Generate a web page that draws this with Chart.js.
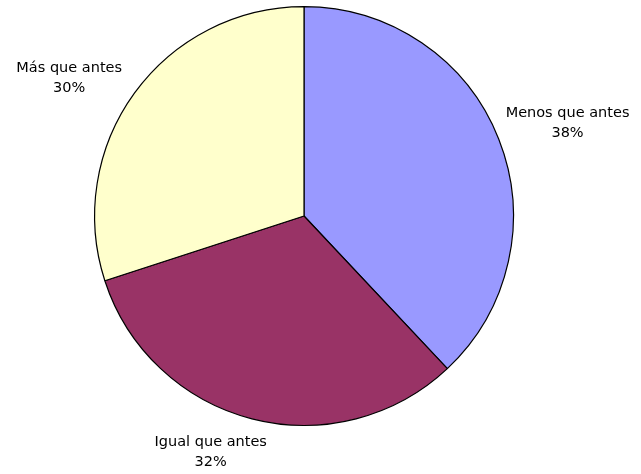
<!DOCTYPE html>
<html>
<head>
<meta charset="utf-8">
<script src="https://cdn.jsdelivr.net/npm/chart.js@4"></script>
<style>
  body { margin: 0; background: #fff; }
  canvas { display: block; }
</style>
</head>
<body>
<canvas id="pieChart" width="641" height="474"></canvas>
<script>
// Data
const categories = ['Menos que antes', 'Igual que antes', 'Más que antes'];
const shares = [38, 32, 30];
const sliceColors = ['#9999FF', '#993366', '#FFFFCC'];

// Label nudges (px) from the radial anchor point, Excel-style placement
const labelNudges = [[27, 1], [-30, -10], [-29, 12]];

// Draws "name\nxx%" outside each slice
const outsideLabels = {
    id: 'outsideLabels',
    afterDatasetsDraw(chart) {
        const ctx = chart.ctx;
        const meta = chart.getDatasetMeta(0);
        ctx.save();
        ctx.font = '14.5px "DejaVu Sans", Verdana, sans-serif';
        ctx.fillStyle = '#000';
        ctx.textAlign = 'center';
        ctx.textBaseline = 'middle';
        meta.data.forEach((arc, i) => {
            const p = arc.getProps(['x', 'y', 'startAngle', 'endAngle', 'outerRadius'], true);
            const mid = (p.startAngle + p.endAngle) / 2;
            const r = p.outerRadius + 45;
            const x = p.x + Math.cos(mid) * r + labelNudges[i][0];
            const y = p.y + Math.sin(mid) * r + labelNudges[i][1];
            ctx.fillText(categories[i], x, y - 10);
            ctx.fillText(shares[i] + '%', x, y + 10);
        });
        ctx.restore();
    }
};

new Chart(document.getElementById('pieChart').getContext('2d'), {
    type: 'pie',
    data: {
        labels: categories,
        datasets: [{
            data: shares,
            backgroundColor: sliceColors,
            borderColor: '#000',
            borderWidth: 1.2
        }]
    },
    options: {
        responsive: false,
        animation: false,
        layout: { padding: { top: 6, bottom: 48, left: 94, right: 127 } },
        plugins: {
            legend: { display: false },
            tooltip: { enabled: false }
        }
    },
    plugins: [outsideLabels]
});
</script>
</body>
</html>
